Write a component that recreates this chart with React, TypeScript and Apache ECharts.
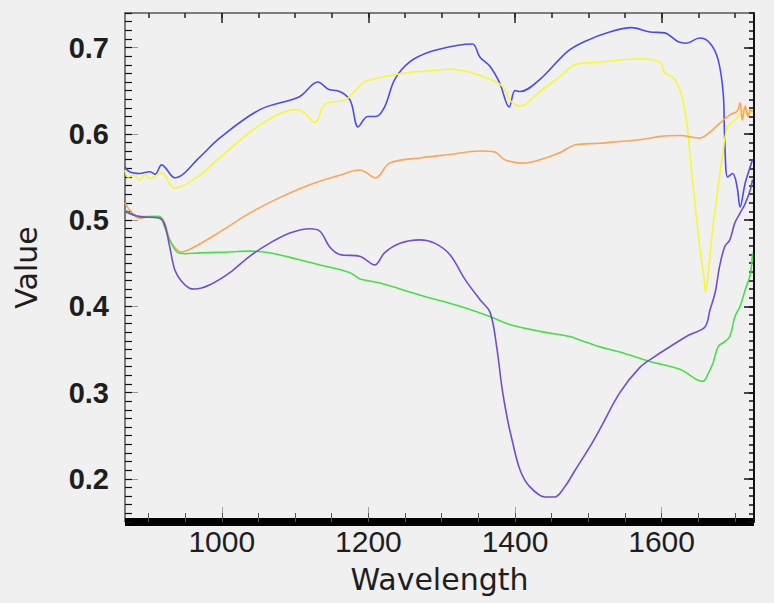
import React, { useEffect, useRef } from "react";
import * as echarts from "echarts";

// ---- data: [wavelength, value] pairs ----
const blueSeries: [number, number][] = [
  [868, 0.562], [874, 0.556], [888, 0.554], [902, 0.556], [909, 0.553], [918, 0.564],
  [936, 0.549], [970, 0.573], [997, 0.595], [1052, 0.628], [1106, 0.643], [1131, 0.66],
  [1147, 0.651], [1158, 0.65], [1175, 0.639], [1186, 0.608], [1199, 0.62], [1210, 0.62],
  [1222, 0.631], [1236, 0.663], [1256, 0.683], [1284, 0.695], [1325, 0.703], [1342, 0.704],
  [1352, 0.689], [1366, 0.678], [1379, 0.659], [1392, 0.631], [1400, 0.65], [1407, 0.649],
  [1434, 0.663], [1471, 0.695], [1495, 0.707], [1529, 0.718], [1559, 0.723], [1584, 0.718],
  [1604, 0.717], [1622, 0.707], [1633, 0.705], [1652, 0.711], [1666, 0.705], [1677, 0.686],
  [1684, 0.647], [1686, 0.595], [1690, 0.55], [1697, 0.554], [1703, 0.538], [1707, 0.515],
  [1714, 0.543], [1721, 0.562], [1724, 0.57],
];

const yellowSeries: [number, number][] = [
  [868, 0.558], [872, 0.55], [880, 0.552], [888, 0.546], [895, 0.553], [902, 0.548],
  [909, 0.551], [918, 0.555], [936, 0.537], [970, 0.552], [997, 0.572], [1052, 0.61],
  [1102, 0.628], [1113, 0.624], [1127, 0.613], [1141, 0.634], [1168, 0.639], [1181, 0.649],
  [1195, 0.66], [1222, 0.666], [1256, 0.671], [1297, 0.674], [1311, 0.675], [1336, 0.672],
  [1366, 0.663], [1383, 0.655], [1393, 0.639], [1400, 0.634], [1407, 0.632], [1434, 0.649],
  [1461, 0.666], [1482, 0.68], [1516, 0.683], [1570, 0.687], [1598, 0.683], [1604, 0.671],
  [1618, 0.663], [1629, 0.639], [1636, 0.601], [1638, 0.581], [1645, 0.523], [1652, 0.469],
  [1658, 0.431], [1660, 0.417], [1664, 0.442], [1670, 0.492], [1677, 0.538], [1684, 0.581],
  [1690, 0.608], [1700, 0.616], [1709, 0.624], [1714, 0.631], [1718, 0.622], [1721, 0.624],
  [1724, 0.628],
];

const orangeSeries: [number, number][] = [
  [868, 0.52], [874, 0.512], [888, 0.502], [902, 0.504], [915, 0.504], [922, 0.497],
  [929, 0.477], [936, 0.468], [945, 0.463], [963, 0.469], [997, 0.486], [1038, 0.508],
  [1079, 0.526], [1120, 0.541], [1161, 0.552], [1188, 0.558], [1195, 0.556], [1210, 0.549],
  [1229, 0.566], [1270, 0.572], [1311, 0.576], [1352, 0.58], [1372, 0.579], [1386, 0.57],
  [1411, 0.566], [1434, 0.57], [1461, 0.578], [1482, 0.587], [1516, 0.589], [1543, 0.591],
  [1570, 0.593], [1598, 0.597], [1625, 0.598], [1652, 0.595], [1666, 0.602], [1679, 0.612],
  [1693, 0.622], [1703, 0.626], [1707, 0.636], [1710, 0.616], [1714, 0.632], [1718, 0.62],
  [1721, 0.628], [1724, 0.625],
];

const greenSeries: [number, number][] = [
  [868, 0.512], [888, 0.504], [915, 0.504], [922, 0.492], [929, 0.477], [939, 0.463],
  [950, 0.461], [970, 0.462], [1011, 0.463], [1038, 0.464], [1065, 0.462], [1106, 0.454],
  [1134, 0.448], [1175, 0.439], [1188, 0.432], [1216, 0.427], [1270, 0.413], [1325, 0.4],
  [1366, 0.388], [1393, 0.379], [1434, 0.371], [1475, 0.365], [1488, 0.361], [1516, 0.353],
  [1543, 0.347], [1584, 0.336], [1625, 0.327], [1656, 0.313], [1663, 0.321], [1670, 0.334],
  [1677, 0.353], [1686, 0.359], [1693, 0.365], [1700, 0.388], [1707, 0.4], [1714, 0.419],
  [1721, 0.437], [1724, 0.462],
];

const purpleSeries: [number, number][] = [
  [868, 0.51], [888, 0.504], [915, 0.502], [922, 0.495], [929, 0.469], [936, 0.442],
  [945, 0.429], [956, 0.421], [963, 0.42], [984, 0.425], [1011, 0.439], [1038, 0.458],
  [1065, 0.473], [1093, 0.485], [1120, 0.49], [1134, 0.487], [1147, 0.469], [1161, 0.46],
  [1188, 0.458], [1209, 0.448], [1222, 0.462], [1243, 0.473], [1270, 0.477], [1291, 0.473],
  [1311, 0.46], [1332, 0.431], [1352, 0.408], [1366, 0.393], [1375, 0.353], [1382, 0.307],
  [1389, 0.272], [1396, 0.245], [1407, 0.21], [1420, 0.191], [1441, 0.179], [1454, 0.179],
  [1468, 0.191], [1482, 0.21], [1502, 0.237], [1516, 0.258], [1543, 0.3], [1570, 0.329],
  [1591, 0.342], [1611, 0.353], [1638, 0.367], [1659, 0.376], [1666, 0.396], [1673, 0.416],
  [1679, 0.446], [1686, 0.469], [1693, 0.477], [1700, 0.497], [1707, 0.508], [1714, 0.519],
  [1721, 0.535], [1724, 0.547],
];

// ---- axes ----
const xMin = 868;
const xMax = 1726;
const yMin = 0.15;
const yMax = 0.74;
const xMajorTicks = [1000, 1200, 1400, 1600];
const xMinorTicks = [900, 950, 1000, 1050, 1100, 1150, 1200, 1250, 1300, 1350, 1400, 1450, 1500, 1550, 1600, 1650, 1700];
const yMajorTicks = [0.2, 0.3, 0.4, 0.5, 0.6, 0.7];
const xTitle = "Wavelength";
const yTitle = "Value";

const seriesColors = ["#4b4bf2", "#f7f733", "#ffa552", "#44e044", "#6f4fd0"];

const SANS = "'Liberation Sans', Arial, sans-serif";
const DEJAVU = "'DejaVu Sans', Verdana, sans-serif";

export default function App() {
  const ref = useRef<HTMLDivElement>(null);

  useEffect(() => {
    document.body.style.margin = "0";
    document.body.style.background = "#f0f0f0";
    if (!ref.current) return;
    const chart = echarts.init(ref.current, null, { renderer: "svg" });

    const baseX = { type: "value", min: xMin, max: xMax, axisLine: { show: false, onZero: false }, axisLabel: { show: false }, splitLine: { show: false }, axisTick: { show: false } };
    const baseY = { type: "value", min: yMin, max: yMax, axisLine: { show: false, onZero: false }, axisLabel: { show: false }, splitLine: { show: false }, axisTick: { show: false } };

    const lines = [blueSeries, yellowSeries, orangeSeries, greenSeries, purpleSeries];

    chart.setOption({
      animation: false,
      backgroundColor: "#f0f0f0",
      grid: { left: 125, right: 20, top: 13, bottom: 81, containLabel: false },
      xAxis: [
        {
          ...baseX,
          position: "bottom",
          axisLine: { show: true, onZero: false, lineStyle: { color: "#000", width: 8, cap: "butt" } },
          axisTick: { show: true, inside: true, length: 15, customValues: xMajorTicks, lineStyle: { color: "#a0a0a0", width: 1 } },
          axisLabel: { show: true, customValues: xMajorTicks, margin: 4, fontSize: 30, fontFamily: SANS, color: "#1e1e1e", formatter: (v: number) => String(Math.round(v)) },
          name: xTitle,
          nameLocation: "middle",
          nameGap: 42,
          nameTextStyle: { fontSize: 30, fontFamily: DEJAVU, color: "#1e1e1e" },
        },
        {
          ...baseX,
          position: "bottom",
          axisTick: { show: true, inside: true, length: 9, customValues: xMinorTicks, lineStyle: { color: "#555", width: 1 } },
        },
        {
          ...baseX,
          position: "top",
          axisLine: { show: true, onZero: false, lineStyle: { color: "#555", width: 1.5 } },
          axisTick: { show: true, inside: true, length: 5, customValues: xMinorTicks, lineStyle: { color: "#222", width: 1.5 } },
        },
        {
          ...baseX,
          position: "top",
          axisTick: { show: true, inside: true, length: 10, customValues: xMajorTicks, lineStyle: { color: "#222", width: 1.5 } },
        },
      ],
      yAxis: [
        {
          ...baseY,
          position: "left",
          axisLine: { show: true, onZero: false, lineStyle: { color: "#555", width: 1.5 } },
          axisTick: { show: true, inside: true, length: 13, customValues: yMajorTicks, lineStyle: { color: "#999", width: 1 } },
          axisLabel: { show: true, customValues: yMajorTicks, margin: 16, fontSize: 29, fontWeight: "bold", fontFamily: SANS, color: "#1e1e1e", formatter: (v: number) => v.toFixed(1) },
          name: yTitle,
          nameLocation: "middle",
          nameGap: 84,
          nameRotate: 90,
          nameTextStyle: { fontSize: 30, fontFamily: DEJAVU, color: "#1e1e1e" },
        },
        {
          ...baseY,
          position: "left",
          interval: 0.01,
          axisTick: { show: true, inside: true, length: 7, lineStyle: { color: "#111", width: 1.2 } },
        },
        {
          ...baseY,
          position: "right",
          interval: 0.01,
          axisLine: { show: true, onZero: false, lineStyle: { color: "#111", width: 2 } },
          axisTick: { show: true, inside: true, length: 5, lineStyle: { color: "#111", width: 1.5 } },
        },
        {
          ...baseY,
          position: "right",
          axisTick: { show: true, inside: true, length: 10, customValues: yMajorTicks, lineStyle: { color: "#111", width: 1.5 } },
        },
      ],
      series: lines.map((d, i) => ({
        type: "line",
        data: d,
        xAxisIndex: 0,
        yAxisIndex: 0,
        showSymbol: false,
        symbol: "none",
        smooth: 0.35,
        lineStyle: { color: seriesColors[i], width: 1.6 },
        itemStyle: { color: seriesColors[i] },
      })),
    });

    return () => chart.dispose();
  }, []);

  return <div ref={ref} style={{ width: 774, height: 603, background: "#f0f0f0" }} />;
}
